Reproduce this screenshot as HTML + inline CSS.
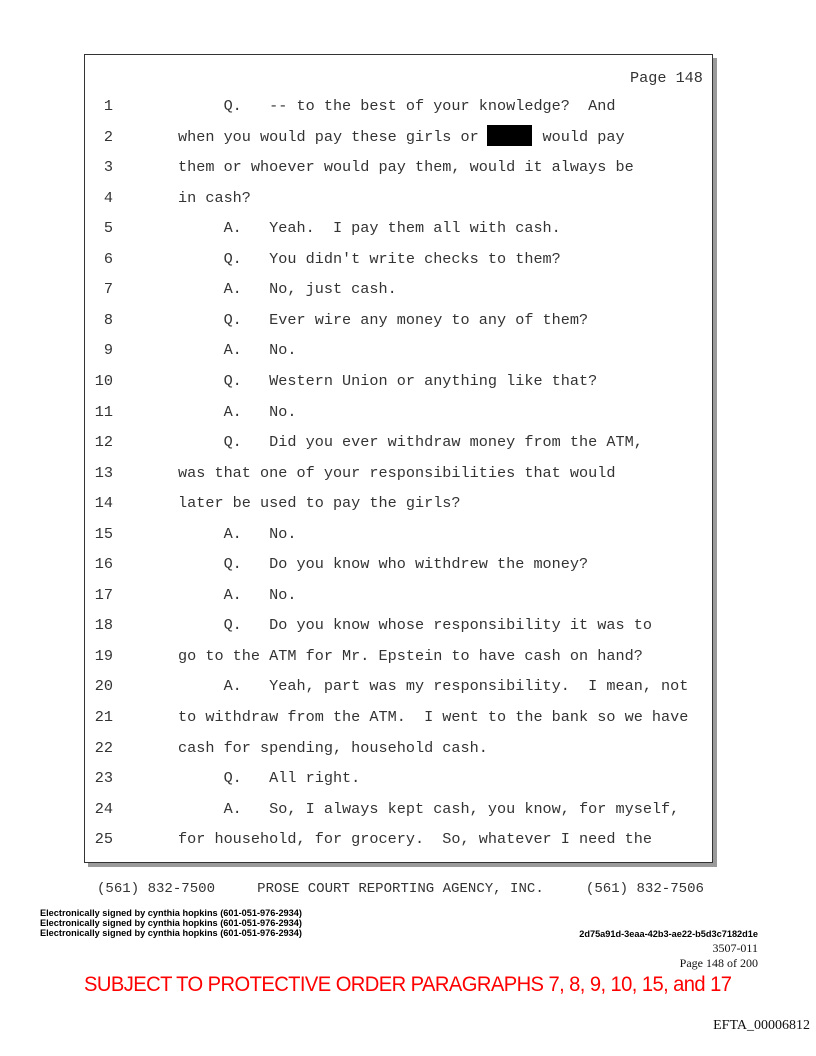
<!DOCTYPE html>
<html><head><meta charset="utf-8"><style>
body{margin:0;width:816px;height:1056px;background:#fff;position:relative;overflow:hidden}
.box{position:absolute;left:84px;top:54px;width:627px;height:807px;border:1px solid #333;box-shadow:4px 4px 0 #9a9a9a;background:#fff}
.m{position:absolute;font-family:"Liberation Mono",monospace;font-size:15.2px;color:#333;white-space:pre;line-height:18px}
.n{position:absolute;width:40px;text-align:right;left:73px;font-family:"Liberation Mono",monospace;font-size:15.2px;color:#333;line-height:18px}
.s{position:absolute;font-family:"Liberation Sans",sans-serif;font-weight:bold;font-size:9.2px;color:#000;line-height:10px;white-space:nowrap}
.t{position:absolute;font-family:"Liberation Serif",serif;color:#111;white-space:pre}
</style></head><body>
<div class="box"></div>
<div class="m" style="left:630px;top:69px">Page 148</div>
<div id="L"></div>
<div style="position:absolute;left:487px;top:125px;width:45px;height:21px;background:#000"></div>
<script>
var lines=[
"     Q.   -- to the best of your knowledge?  And",
"when you would pay these girls or       would pay",
"them or whoever would pay them, would it always be",
"in cash?",
"     A.   Yeah.  I pay them all with cash.",
"     Q.   You didn't write checks to them?",
"     A.   No, just cash.",
"     Q.   Ever wire any money to any of them?",
"     A.   No.",
"     Q.   Western Union or anything like that?",
"     A.   No.",
"     Q.   Did you ever withdraw money from the ATM,",
"was that one of your responsibilities that would",
"later be used to pay the girls?",
"     A.   No.",
"     Q.   Do you know who withdrew the money?",
"     A.   No.",
"     Q.   Do you know whose responsibility it was to",
"go to the ATM for Mr. Epstein to have cash on hand?",
"     A.   Yeah, part was my responsibility.  I mean, not",
"to withdraw from the ATM.  I went to the bank so we have",
"cash for spending, household cash.",
"     Q.   All right.",
"     A.   So, I always kept cash, you know, for myself,",
"for household, for grocery.  So, whatever I need the"];
var h="";
for(var i=0;i<25;i++){var y=97+i*30.55;
h+='<div class="n" style="top:'+y+'px">'+(i+1)+'</div><div class="m" style="left:178px;top:'+y+'px">'+lines[i]+'</div>';}
document.getElementById("L").innerHTML=h;
</script>
<div class="m" style="left:97px;top:880px;font-size:14.05px">(561) 832-7500     PROSE COURT REPORTING AGENCY, INC.     (561) 832-7506</div>
<div class="s" style="left:40px;top:908px">Electronically signed by cynthia hopkins (601-051-976-2934)</div>
<div class="s" style="left:40px;top:918px">Electronically signed by cynthia hopkins (601-051-976-2934)</div>
<div class="s" style="left:40px;top:928px">Electronically signed by cynthia hopkins (601-051-976-2934)</div>
<div class="s" style="right:58px;top:929px">2d75a91d-3eaa-42b3-ae22-b5d3c7182d1e</div>
<div class="t" style="right:58px;top:941px;font-size:12px">3507-011</div>
<div class="t" style="right:58px;top:956px;font-size:12px">Page 148 of 200</div>
<div style="position:absolute;left:84px;top:973px;font-family:'Liberation Sans',sans-serif;font-size:21px;color:#f00;white-space:nowrap;letter-spacing:-0.6px;transform:scaleX(0.96);transform-origin:0 0">SUBJECT TO PROTECTIVE ORDER PARAGRAPHS 7, 8, 9, 10, 15, and 17</div>
<div class="t" style="right:6px;top:1018px;font-size:14px">EFTA_00006812</div>
</body></html>
